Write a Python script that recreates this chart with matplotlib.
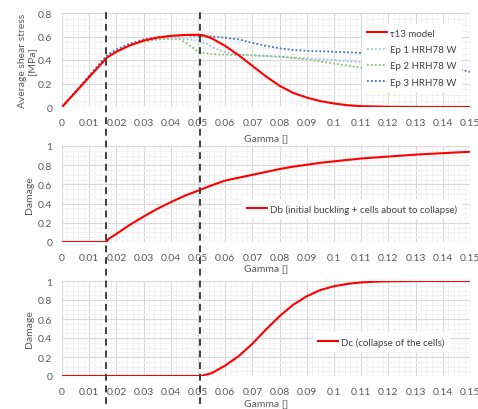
import numpy as np
import matplotlib.pyplot as plt
from matplotlib.ticker import MultipleLocator, FuncFormatter

plt.rcParams['font.family'] = ['Lato', 'DejaVu Sans']

# stress curves [MPa] vs gamma
g_model = [0, 0.0165, 0.02, 0.025, 0.03, 0.035, 0.04, 0.045, 0.05, 0.052, 0.055,
           0.06, 0.065, 0.07, 0.075, 0.08, 0.085, 0.09, 0.095, 0.1, 0.105, 0.11,
           0.12, 0.13, 0.15]
tau_model = [0, 0.42, 0.47, 0.525, 0.565, 0.59, 0.605, 0.613, 0.615, 0.61, 0.585,
             0.52, 0.44, 0.35, 0.26, 0.18, 0.12, 0.08, 0.05, 0.03, 0.015, 0.007,
             0.002, 0, 0]

g_ep1 = [0, 0.0165, 0.02, 0.025, 0.03, 0.035, 0.04, 0.045, 0.05, 0.053, 0.056,
         0.06, 0.065, 0.07, 0.08, 0.09, 0.1, 0.11, 0.13]
tau_ep1 = [0, 0.43, 0.48, 0.53, 0.56, 0.575, 0.58, 0.58, 0.565, 0.54, 0.5,
           0.465, 0.445, 0.44, 0.425, 0.415, 0.40, 0.38, 0.355]

g_ep2 = [0, 0.0165, 0.02, 0.025, 0.03, 0.035, 0.04, 0.043, 0.046, 0.05, 0.055,
         0.06, 0.07, 0.08, 0.09, 0.1, 0.11, 0.13]
tau_ep2 = [0, 0.43, 0.48, 0.525, 0.555, 0.575, 0.585, 0.58, 0.54, 0.47, 0.45,
           0.445, 0.44, 0.43, 0.405, 0.37, 0.335, 0.31]

g_ep3 = [0, 0.0165, 0.02, 0.025, 0.03, 0.035, 0.04, 0.045, 0.05, 0.055, 0.06,
         0.065, 0.07, 0.075, 0.08, 0.085, 0.09, 0.1, 0.11, 0.12, 0.13, 0.14,
         0.148, 0.15]
tau_ep3 = [0, 0.44, 0.49, 0.54, 0.575, 0.595, 0.605, 0.61, 0.605, 0.60, 0.59,
           0.575, 0.545, 0.52, 0.50, 0.485, 0.478, 0.47, 0.46, 0.44, 0.40, 0.35,
           0.31, 0.30]

# damage variables
g_db = [0, 0.0165, 0.017, 0.02, 0.025, 0.03, 0.035, 0.04, 0.045, 0.05, 0.055,
        0.06, 0.065, 0.07, 0.075, 0.08, 0.085, 0.09, 0.095, 0.1, 0.105, 0.11,
        0.115, 0.12, 0.125, 0.13, 0.135, 0.14, 0.145, 0.15]
db = [0, 0, 0.03, 0.085, 0.18, 0.265, 0.345, 0.415, 0.48, 0.535, 0.59,
      0.64, 0.67, 0.70, 0.73, 0.76, 0.785, 0.805, 0.825, 0.84, 0.855, 0.87,
      0.88, 0.89, 0.90, 0.91, 0.918, 0.925, 0.933, 0.94]

g_dc = [0, 0.051, 0.055, 0.06, 0.065, 0.07, 0.075, 0.08, 0.085, 0.09, 0.095,
        0.1, 0.105, 0.11, 0.115, 0.12, 0.13, 0.15]
dc = [0, 0, 0.03, 0.11, 0.21, 0.34, 0.49, 0.63, 0.75, 0.84, 0.905,
      0.945, 0.97, 0.985, 0.993, 0.997, 1, 1]

gamma_marks = [0.0162, 0.0508]

fig = plt.figure(figsize=(4.78, 4.10), dpi=100)
W, H = 478, 410
left, width = 62 / W, 408 / W

def box(top, bot):
    return [left, 1 - bot / H, width, (bot - top) / H]

ax1 = fig.add_axes(box(14, 108))
ax2 = fig.add_axes(box(147, 243))
ax3 = fig.add_axes(box(282, 377))

fmt = FuncFormatter(lambda v, p: f'{v:g}')
for ax in (ax1, ax2, ax3):
    ax.set_xlim(0, 0.15)
    ax.xaxis.set_major_locator(MultipleLocator(0.01))
    ax.xaxis.set_minor_locator(MultipleLocator(0.002))
    ax.xaxis.set_major_formatter(fmt)
    ax.yaxis.set_major_formatter(fmt)
    ax.grid(which='major', color='#d9d9d9', linewidth=0.8)
    ax.grid(which='minor', color='#f0f0f0', linewidth=0.6)
    ax.set_axisbelow(True)
    for s in ax.spines.values():
        s.set_visible(False)
    ax.tick_params(which='both', length=0, labelsize=7.5, colors='#595959')
    ax.tick_params(axis='x', pad=8)
    ax.tick_params(axis='y', pad=7)
    ax.set_xlabel('Gamma []', fontsize=7.5, color='#595959')

ax1.set_ylim(0, 0.8)
ax1.yaxis.set_major_locator(MultipleLocator(0.2))
ax1.yaxis.set_minor_locator(MultipleLocator(0.05))
for ax in (ax2, ax3):
    ax.set_ylim(0, 1)
    ax.yaxis.set_major_locator(MultipleLocator(0.2))
    ax.yaxis.set_minor_locator(MultipleLocator(0.05))

dot = (0, (1, 1.2))
ax1.plot(g_model, tau_model, color='#ff0000', lw=1.5, label='\u03c413 model', zorder=5)
ax1.plot(g_ep1, tau_ep1, color='#9dc3e6', lw=1.3, ls=dot, label='Ep 1 HRH78 W')
ax1.plot(g_ep2, tau_ep2, color='#8fc16a', lw=1.3, ls=dot, label='Ep 2 HRH78 W')
ax1.plot(g_ep3, tau_ep3, color='#4472c4', lw=1.3, ls=dot, label='Ep 3 HRH78 W')
ax1.set_ylabel('Average shear stress\n[MPa]', fontsize=7.5, color='#595959',
               linespacing=1.0)
ax1.yaxis.set_label_coords(-0.064, 0.5)
ax1.xaxis.set_label_coords(0.5, -0.28)

ax2.plot(g_db, db, color='#ff0000', lw=1.5,
         label='Db (initial buckling + cells about to collapse)')
ax2.set_ylabel('Damage', fontsize=7.5, color='#595959')
ax2.yaxis.set_label_coords(-0.069, 0.5)
ax2.xaxis.set_label_coords(0.5, -0.22)

ax3.plot(g_dc, dc, color='#ff0000', lw=1.5, label='Dc (collapse of the cells)')
ax3.set_ylabel('Damage', fontsize=7.5, color='#595959')
ax3.yaxis.set_label_coords(-0.069, 0.5)
ax3.xaxis.set_label_coords(0.5, -0.23)

leg_kw = dict(fontsize=7.0, frameon=True, fancybox=False, edgecolor='none',
              facecolor='white', framealpha=1, handlelength=2.1,
              handletextpad=0.3, borderaxespad=0, borderpad=0.5,
              labelcolor='#404040')
ax1.legend(loc='upper left', bbox_to_anchor=(362 / W, 1 - 25 / H),
           bbox_transform=fig.transFigure, labelspacing=0.75, **leg_kw)
ax2.legend(loc='center left', bbox_to_anchor=(242 / W, 1 - 210 / H),
           bbox_transform=fig.transFigure, **leg_kw)
ax3.legend(loc='center left', bbox_to_anchor=(313 / W, 1 - 343 / H),
           bbox_transform=fig.transFigure, **leg_kw)

# dashed markers spanning all three panels
ov = fig.add_axes([left, 1 - 405 / H, width, (405 - 13) / H])
ov.set_xlim(0, 0.15)
ov.set_ylim(0, 1)
ov.axis('off')
for g in gamma_marks:
    ov.axvline(g, color='#404040', lw=1.4, ls=(0, (3.5, 2.5)))

fig.savefig('out.png', dpi=100)
